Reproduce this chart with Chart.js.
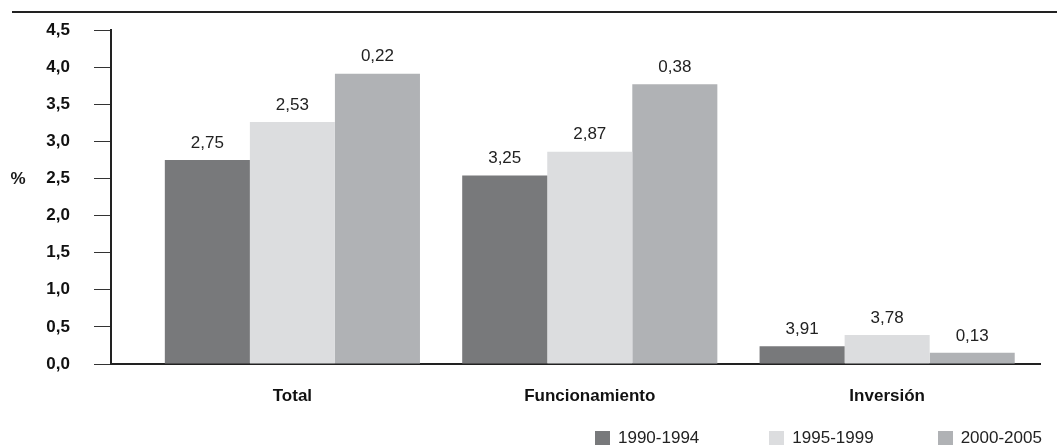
<!DOCTYPE html>
<html>
<head>
<meta charset="utf-8">
<script src="https://cdn.jsdelivr.net/npm/chart.js@4.4.1/dist/chart.umd.min.js"></script>
<style>
    html, body { margin: 0; padding: 0; background: #fff; overflow: hidden; }
    #wrap { position: relative; width: 1057px; height: 448px; }
    #chart { position: absolute; left: 0; top: 0; }
    #topline { position: absolute; left: 12px; right: 0; top: 11px; height: 2px; background: #222; }
    #legend { position: absolute; top: 430px; left: 595px; display: flex; white-space: nowrap; font: 17px 'Liberation Sans', sans-serif; color: #222; }
    #legend .item { display: flex; align-items: center; height: 16px; }
    #legend .box { width: 15px; height: 14px; margin-right: 8px; }
</style>
</head>
<body>
<div id="wrap">
    <div id="topline"></div>
    <canvas id="chart" width="1057" height="448"></canvas>
    <div id="legend"></div>
</div>
<script>
const categories = ['Total', 'Funcionamiento', 'Inversión'];
const periods = ['1990-1994', '1995-1999', '2000-2005'];
const colors = ['#78797b', '#dcdddf', '#b0b2b5'];

// alturas de las barras (%)
const values1990 = [2.75, 2.54, 0.24];
const values1995 = [3.26, 2.86, 0.39];
const values2000 = [3.91, 3.77, 0.15];

// rótulos tal como aparecen sobre cada barra
const labels1990 = ['2,75', '3,25', '3,91'];
const labels1995 = ['2,53', '2,87', '3,78'];
const labels2000 = ['0,22', '0,38', '0,13'];

const yTicks = [0, 0.5, 1, 1.5, 2, 2.5, 3, 3.5, 4, 4.5];

const seriesValues = [values1990, values1995, values2000];
const seriesLabels = [labels1990, labels1995, labels2000];

const barLabels = {
    id: 'barLabels',
    afterDatasetsDraw(chart) {
        const ctx = chart.ctx;
        ctx.save();
        ctx.font = "17px 'Liberation Sans', sans-serif";
        ctx.fillStyle = '#222';
        ctx.textAlign = 'center';
        ctx.textBaseline = 'middle';
        chart.data.datasets.forEach((ds, i) => {
            chart.getDatasetMeta(i).data.forEach((bar, j) => {
                ctx.fillText(seriesLabels[i][j], bar.x, bar.y - 17);
            });
        });
        ctx.restore();
    }
};

const percentSign = {
    id: 'percentSign',
    afterDraw(chart) {
        const ctx = chart.ctx;
        const y = chart.scales.y.getPixelForValue(2.5);
        ctx.save();
        ctx.font = "bold 17px 'Liberation Sans', sans-serif";
        ctx.fillStyle = '#1a1a1a';
        ctx.textAlign = 'center';
        ctx.textBaseline = 'middle';
        ctx.fillText('%', 18, y + 1);
        ctx.restore();
    }
};

const chart = new Chart(document.getElementById('chart'), {
    type: 'bar',
    data: {
        datasets: periods.map((p, i) => ({
            label: p,
            data: seriesValues[i].map((v, j) => ({ x: j, y: v })),
            backgroundColor: colors[i],
            borderWidth: 0,
            categoryPercentage: 0.858,
            barPercentage: 1
        }))
    },
    options: {
        responsive: false,
        animation: false,
        layout: { padding: { top: 30, right: 17, left: 0, bottom: 40 } },
        plugins: {
            legend: { display: false },
            tooltip: { enabled: false }
        },
        scales: {
            x: {
                type: 'linear',
                offset: false,
                min: -0.61,
                max: 2.514,
                afterBuildTicks: s => { s.ticks = categories.map((c, i) => ({ value: i })); },
                afterFit: s => { s.height = 44; },
                ticks: {
                    callback: v => categories[v],
                    font: { family: "'Liberation Sans', sans-serif", size: 17, weight: 'bold' },
                    color: '#111',
                    padding: 22,
                    maxRotation: 0
                },
                grid: { display: true, drawOnChartArea: false, drawTicks: false },
                border: { color: '#222', width: 2 }
            },
            y: {
                min: 0,
                max: 4.5,
                afterBuildTicks: s => { s.ticks = yTicks.map(v => ({ value: v })); },
                afterFit: s => {
                    s.width = 111;
                    s.paddingTop = 0;
                    s.paddingBottom = 0;
                },
                ticks: {
                    callback: v => v.toFixed(1).replace('.', ','),
                    font: { family: "'Liberation Sans', sans-serif", size: 17, weight: 'bold' },
                    color: '#111',
                    padding: 24
                },
                grid: { drawOnChartArea: false, drawTicks: true, tickLength: 17, color: '#333', lineWidth: 1 },
                border: { color: '#222', width: 2 }
            }
        }
    },
    plugins: [barLabels, percentSign]
});

// leyenda en html, a partir de los datasets
const legend = document.getElementById('legend');
const gaps = [0, 70, 64];
chart.data.datasets.forEach((ds, i) => {
    const item = document.createElement('div');
    item.className = 'item';
    item.style.marginLeft = gaps[i] + 'px';
    item.innerHTML = `<span class="box" style="background:${ds.backgroundColor}"></span><span>${ds.label}</span>`;
    legend.appendChild(item);
});
</script>
</body>
</html>
